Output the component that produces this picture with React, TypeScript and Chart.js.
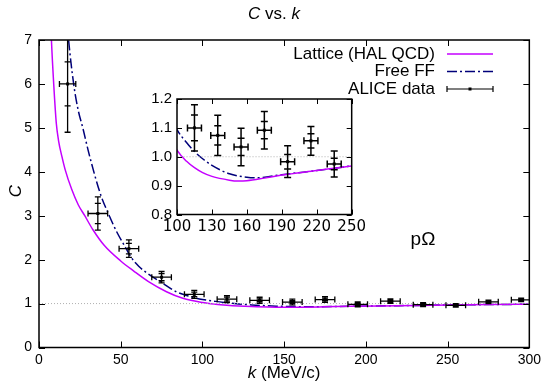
import React, { useEffect, useRef } from "react";
import { Chart, registerables } from "chart.js";
Chart.register(...registerables);

// ---- data ----
const latticeK = [7.2, 7.6, 9, 10.6, 12, 14, 16, 20, 24, 28, 33, 40, 50, 58, 67, 78, 88, 100, 108, 115, 122, 130, 145, 152, 160, 175, 190, 220, 250, 275, 300];
const latticeC = [7.4, 7.0, 6.0, 5.1, 4.7, 4.35, 4.05, 3.6, 3.25, 3.0, 2.68, 2.32, 1.97, 1.74, 1.5, 1.27, 1.12, 1.023, 0.985, 0.962, 0.945, 0.932, 0.919, 0.916, 0.917, 0.926, 0.9365, 0.952, 0.968, 0.978, 0.985];

const freeK = [17.2, 18.1, 21.2, 24, 26.8, 30, 33.9, 38, 43, 48, 52.6, 56.4, 61, 66.6, 75, 84, 92, 100, 108, 115, 122, 130, 145, 160, 168, 190, 220, 250, 275, 300];
const freeC = [7.4, 7.0, 6.0, 5.4, 5.0, 4.5, 3.95, 3.45, 3.0, 2.6, 2.3, 2.05, 1.85, 1.68, 1.48, 1.27, 1.165, 1.094, 1.05, 1.018, 0.993, 0.97, 0.941, 0.929, 0.927, 0.938, 0.952, 0.968, 0.977, 0.985];

const dataK = [17.5, 36, 55, 75, 95, 115, 135, 155, 175, 195, 215, 235, 255, 275, 295];
const dataC = [6.0, 3.05, 2.25, 1.6, 1.21, 1.10, 1.074, 1.034, 1.092, 0.983, 1.055, 0.975, 0.96, 1.04, 1.085];
const dataKErr = [5, 6, 6, 6, 6, 6, 6, 6, 6, 6, 6, 6, 6, 6, 6];
const dataStatErr = [0.5, 0.23, 0.12, 0.08, 0.05, 0.045, 0.033, 0.03, 0.03, 0.025, 0.025, 0.02, 0.02, 0.02, 0.02];
const dataTotErr = [1.1, 0.38, 0.2, 0.13, 0.09, 0.08, 0.07, 0.065, 0.065, 0.055, 0.05, 0.045, 0.04, 0.04, 0.04];

const refK = [0, 300];
const refC = [1, 1];

const mainXTicks = [0, 50, 100, 150, 200, 250, 300];
const mainYTicks = [0, 1, 2, 3, 4, 5, 6, 7];
const insetXTicks = [100, 130, 160, 190, 220, 250];
const insetYTicks = [0.8, 0.9, 1.0, 1.1, 1.2];

const seriesNames = ["Lattice (HAL QCD)", "Free FF", "ALICE data"];

// ---- styles ----
const FONT = '"Liberation Sans", Arial, Helvetica, sans-serif';
const LATTICE_COLOR = "#c400ff";
const FREE_COLOR = "#00007a";
const FREE_DASH = [10, 3, 2, 3];

const pts = (xs: number[], ys: number[]) => xs.map((x, i) => ({ x, y: ys[i] }));

type Part = { t: string; i?: boolean };
function rich(ctx: CanvasRenderingContext2D, parts: Part[], cx: number, cy: number, size: number) {
  ctx.save();
  ctx.textBaseline = "middle";
  ctx.textAlign = "left";
  ctx.fillStyle = "#000";
  let w = 0;
  for (const p of parts) {
    ctx.font = `${p.i ? "italic " : ""}${size}px ${FONT}`;
    w += ctx.measureText(p.t).width;
  }
  let x = cx - w / 2;
  for (const p of parts) {
    ctx.font = `${p.i ? "italic " : ""}${size}px ${FONT}`;
    ctx.fillText(p.t, x, cy);
    x += ctx.measureText(p.t).width;
  }
  ctx.restore();
}

function frameAndTicks(chart: any, xt: number[], yt: number[], len: number) {
  const { ctx, chartArea: ca, scales } = chart;
  const x = scales.x, y = scales.y;
  ctx.save();
  ctx.strokeStyle = "#000";
  ctx.lineWidth = 1;
  ctx.beginPath();
  for (const v of xt) {
    const px = Math.round(x.getPixelForValue(v)) + 0.5;
    ctx.moveTo(px, ca.bottom); ctx.lineTo(px, ca.bottom - len);
    ctx.moveTo(px, ca.top); ctx.lineTo(px, ca.top + len);
  }
  for (const v of yt) {
    const py = Math.round(y.getPixelForValue(v)) + 0.5;
    ctx.moveTo(ca.left, py); ctx.lineTo(ca.left + len, py);
    ctx.moveTo(ca.right, py); ctx.lineTo(ca.right - len, py);
  }
  ctx.stroke();
  ctx.lineWidth = 1.5;
  ctx.strokeRect(ca.left, ca.top, ca.right - ca.left, ca.bottom - ca.top);
  ctx.restore();
}

function errorBars(chart: any, cap: number, lw: number) {
  const { ctx, chartArea: ca, scales } = chart;
  const x = scales.x, y = scales.y;
  ctx.save();
  ctx.beginPath();
  ctx.rect(ca.left, ca.top, ca.right - ca.left, ca.bottom - ca.top);
  ctx.clip();
  ctx.strokeStyle = "#000";
  ctx.fillStyle = "#000";
  ctx.lineWidth = lw;
  for (let i = 0; i < dataK.length; i++) {
    const k = dataK[i], c = dataC[i];
    if (k < x.min || k > x.max) continue;
    const px = x.getPixelForValue(k), py = y.getPixelForValue(c);
    const xl = x.getPixelForValue(k - dataKErr[i]), xr = x.getPixelForValue(k + dataKErr[i]);
    const yt = y.getPixelForValue(c + dataTotErr[i]), yb = y.getPixelForValue(c - dataTotErr[i]);
    const st = y.getPixelForValue(c + dataStatErr[i]), sb = y.getPixelForValue(c - dataStatErr[i]);
    ctx.beginPath();
    ctx.moveTo(xl, py); ctx.lineTo(xr, py);
    ctx.moveTo(xl, py - cap); ctx.lineTo(xl, py + cap);
    ctx.moveTo(xr, py - cap); ctx.lineTo(xr, py + cap);
    ctx.moveTo(px, yt); ctx.lineTo(px, yb);
    for (const yy of [yt, yb, st, sb]) {
      ctx.moveTo(px - cap, yy); ctx.lineTo(px + cap, yy);
    }
    ctx.stroke();
    ctx.fillRect(px - 1.5, py - 1.5, 3, 3);
  }
  ctx.restore();
}

const mainPlugin = {
  id: "mainDecor",
  afterDatasetsDraw(chart: any) {
    errorBars(chart, 3, 1.3);
  },
  afterDraw(chart: any) {
    const ctx = chart.ctx as CanvasRenderingContext2D;
    frameAndTicks(chart, mainXTicks, mainYTicks, 6);
    // title
    rich(ctx, [{ t: "C", i: true }, { t: " vs. " }, { t: "k", i: true }], 274, 14, 17);
    // axis titles
    const ca = chart.chartArea;
    rich(ctx, [{ t: "k", i: true }, { t: " (MeV/c)" }], (ca.left + ca.right) / 2, 373, 17);
    ctx.save();
    ctx.translate(16, 191);
    ctx.rotate(-Math.PI / 2);
    rich(ctx, [{ t: "C", i: true }], 0, 0, 17);
    ctx.restore();
    // pΩ label
    ctx.save();
    ctx.font = `19px ${FONT}`;
    ctx.fillStyle = "#000";
    ctx.textAlign = "center";
    ctx.textBaseline = "middle";
    ctx.fillText("pΩ", 423, 240);
    ctx.restore();
    // legend
    const rows = [54, 71.5, 89];
    const tx = 435, s0 = 447, s1 = 493;
    ctx.save();
    ctx.font = `17px ${FONT}`;
    ctx.fillStyle = "#000";
    ctx.textAlign = "right";
    ctx.textBaseline = "middle";
    seriesNames.forEach((n, i) => ctx.fillText(n, tx, rows[i]));
    ctx.lineWidth = 1.5;
    ctx.strokeStyle = LATTICE_COLOR;
    ctx.beginPath(); ctx.moveTo(s0, rows[0]); ctx.lineTo(s1, rows[0]); ctx.stroke();
    ctx.strokeStyle = FREE_COLOR;
    ctx.setLineDash(FREE_DASH);
    ctx.beginPath(); ctx.moveTo(s0, rows[1]); ctx.lineTo(s1, rows[1]); ctx.stroke();
    ctx.setLineDash([]);
    ctx.strokeStyle = "#000";
    ctx.lineWidth = 1.2;
    ctx.beginPath();
    ctx.moveTo(s0, rows[2]); ctx.lineTo(s1, rows[2]);
    ctx.moveTo(s0, rows[2] - 3); ctx.lineTo(s0, rows[2] + 3);
    ctx.moveTo(s1, rows[2] - 3); ctx.lineTo(s1, rows[2] + 3);
    ctx.stroke();
    ctx.fillRect((s0 + s1) / 2 - 1.5, rows[2] - 1.5, 3, 3);
    ctx.restore();
  },
};

const insetPlugin = {
  id: "insetDecor",
  beforeDraw(chart: any) {
    const { ctx, chartArea: ca } = chart;
    ctx.save();
    ctx.fillStyle = "#fff";
    ctx.fillRect(ca.left, ca.top, ca.right - ca.left, ca.bottom - ca.top);
    ctx.restore();
  },
  afterDatasetsDraw(chart: any) {
    errorBars(chart, 3.5, 1.5);
  },
  afterDraw(chart: any) {
    frameAndTicks(chart, insetXTicks, insetYTicks, 5);
  },
};

function curveDatasets() {
  return [
    {
      label: "ref",
      data: pts(refK, refC),
      showLine: true,
      borderColor: "#b0b0b0",
      borderWidth: 1,
      borderDash: [1, 2],
      pointRadius: 0,
    },
    {
      label: seriesNames[0],
      data: pts(latticeK, latticeC),
      showLine: true,
      borderColor: LATTICE_COLOR,
      borderWidth: 1.5,
      pointRadius: 0,
      cubicInterpolationMode: "monotone",
    },
    {
      label: seriesNames[1],
      data: pts(freeK, freeC),
      showLine: true,
      borderColor: FREE_COLOR,
      borderWidth: 1.5,
      borderDash: FREE_DASH,
      pointRadius: 0,
      cubicInterpolationMode: "monotone",
    },
    {
      label: seriesNames[2],
      data: pts(dataK, dataC),
      showLine: false,
      pointRadius: 0,
      backgroundColor: "#000",
    },
  ];
}

export default function App() {
  const mainRef = useRef<HTMLCanvasElement>(null);
  const insetRef = useRef<HTMLCanvasElement>(null);

  useEffect(() => {
    const tickFont = (size: number, fam = FONT) => ({ size, family: fam });
    const main = new Chart(mainRef.current as HTMLCanvasElement, {
      type: "scatter",
      data: { datasets: curveDatasets() as any },
      options: {
        responsive: false,
        animation: false,
        events: [],
        layout: { padding: { top: 40, right: 14, left: 0, bottom: 0 } },
        plugins: { legend: { display: false }, tooltip: { enabled: false }, title: { display: false } },
        scales: {
          x: {
            type: "linear",
            min: 0,
            max: 300,
            afterBuildTicks: (s: any) => { s.ticks = mainXTicks.map((v) => ({ value: v })); },
            afterFit: (s: any) => { s.height = 34.5; },
            grid: { display: false, drawTicks: false },
            border: { display: false },
            ticks: { color: "#000", font: tickFont(14), padding: 4, maxRotation: 0, autoSkip: false },
          },
          y: {
            type: "linear",
            min: 0,
            max: 7,
            afterBuildTicks: (s: any) => { s.ticks = mainYTicks.map((v) => ({ value: v })); },
            afterFit: (s: any) => { s.width = 39; },
            grid: { display: false, drawTicks: false },
            border: { display: false },
            ticks: { color: "#000", font: tickFont(14), padding: 7, autoSkip: false },
          },
        },
      },
      plugins: [mainPlugin],
    });

    const inset = new Chart(insetRef.current as HTMLCanvasElement, {
      type: "scatter",
      data: { datasets: curveDatasets() as any },
      options: {
        responsive: false,
        animation: false,
        events: [],
        layout: { padding: { top: 12, right: 18, left: 0, bottom: 0 } },
        plugins: { legend: { display: false }, tooltip: { enabled: false }, title: { display: false } },
        scales: {
          x: {
            type: "linear",
            min: 100,
            max: 250,
            afterBuildTicks: (s: any) => { s.ticks = insetXTicks.map((v) => ({ value: v })); },
            afterFit: (s: any) => { s.height = 25.5; },
            grid: { display: false, drawTicks: false },
            border: { display: false },
            ticks: { color: "#000", font: tickFont(15, '"DejaVu Sans", sans-serif'), padding: 4, maxRotation: 0, autoSkip: false },
          },
          y: {
            type: "linear",
            min: 0.8,
            max: 1.2,
            afterBuildTicks: (s: any) => { s.ticks = insetYTicks.map((v) => ({ value: v })); },
            afterFit: (s: any) => { s.width = 47; },
            grid: { display: false, drawTicks: false },
            border: { display: false },
            ticks: {
              color: "#000",
              font: tickFont(15),
              padding: 5,
              autoSkip: false,
              callback: (v: any) => Number(v).toFixed(1),
            },
          },
        },
      },
      plugins: [insetPlugin],
    });

    return () => {
      main.destroy();
      inset.destroy();
    };
  }, []);

  return (
    <div style={{ position: "absolute", left: 0, top: 0, width: 545, height: 382, background: "#fff" }}>
      <canvas ref={mainRef} width={545} height={382} style={{ position: "absolute", left: 0, top: 0 }} />
      <canvas ref={insetRef} width={240} height={155} style={{ position: "absolute", left: 130, top: 85 }} />
    </div>
  );
}
